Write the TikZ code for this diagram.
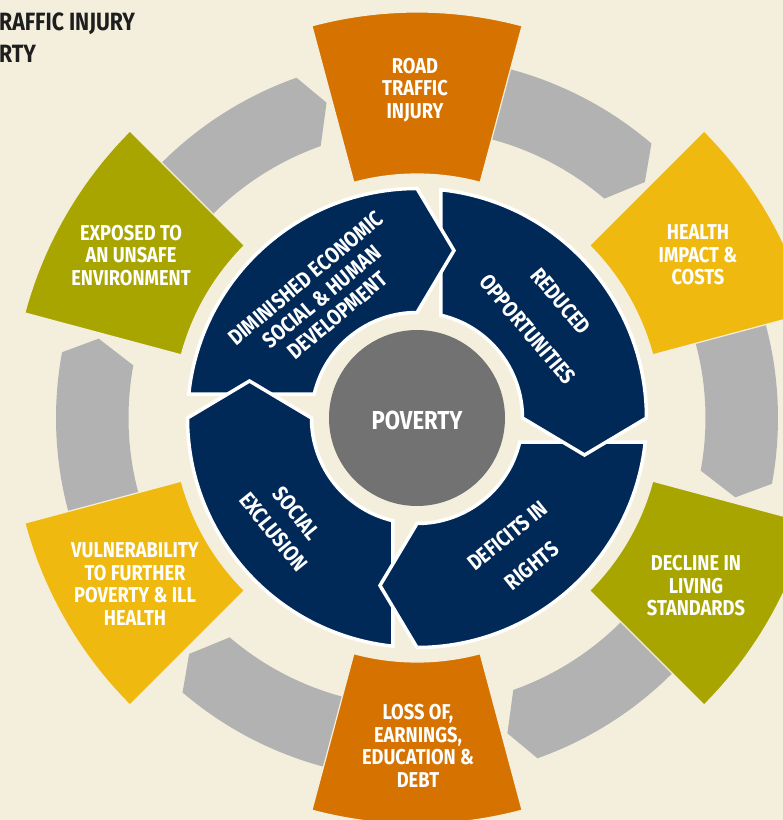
\documentclass[tikz,border=0pt]{standalone}
\usepackage{fontspec}
\setmainfont{Fira Sans}[FakeStretch=0.85]
\definecolor{cream}{RGB}{244,239,221}
\definecolor{navy}{RGB}{0,41,88}
\definecolor{ringgray}{RGB}{178,178,178}
\definecolor{povgray}{RGB}{114,114,114}
\definecolor{orangebox}{RGB}{214,114,0}
\definecolor{yellowbox}{RGB}{240,185,15}
\definecolor{olivebox}{RGB}{168,165,0}
\definecolor{titleink}{RGB}{30,30,30}
\newcommand\navyseg[1]{%
  \begin{scope}[rotate=#1]
    \path[seg] (173.997:229.5pt) arc[start angle=173.997,end angle=90,radius=229.5pt]
      -- (37,167.5) -- (90:105.5pt) arc[start angle=90,end angle=166.85,radius=105.5pt] -- cycle;
  \end{scope}}
\newcommand\grayband[1]{%
  \begin{scope}[rotate=#1]
    \path[ringband] (35:361pt) arc[start angle=35,end angle=4.5,radius=361pt]
      -- (1:328pt) -- (4.5:288.5pt) arc[start angle=4.5,end angle=35,radius=288.5pt] -- cycle;
  \end{scope}}
\newcommand\sectorbox[2]{%
  \begin{scope}[rotate=#1]
    \path[boxshape,fill=#2] (-15:244pt) arc[start angle=-15,end angle=15,radius=244pt]
      -- (15:406pt) arc[start angle=15,end angle=-15,radius=406pt] -- cycle;
  \end{scope}}
\begin{document}
\begin{tikzpicture}[x=1pt,y=1pt,
  seg/.style={fill=navy,draw=white,line width=3.5pt,line join=miter},
  ringband/.style={fill=ringgray},
  boxshape/.style={draw=cream,line width=1.2pt},
  boxtext/.style={text=white,font=\bfseries\fontsize{21.5}{22.5}\selectfont,align=center,inner sep=0pt},
  segtext/.style={text=white,font=\bfseries\fontsize{22}{24.5}\selectfont,align=center,inner sep=0pt},
  titletext/.style={text=titleink,font=\bfseries\fontsize{25}{32}\selectfont,inner sep=0pt,anchor=base west}]
\useasboundingbox (-417,-402) rectangle (366,418);
\fill[cream] (-417,-402) rectangle (366,418);
\clip (-417,-402) rectangle (366,418);
% gray ring arrows
\grayband{45}
\grayband{-15}
\grayband{-75}
\grayband{-135}
\grayband{165}
\grayband{105}
% outer boxes
\sectorbox{90}{orangebox}
\sectorbox{30}{yellowbox}
\sectorbox{-30}{olivebox}
\sectorbox{-90}{orangebox}
\sectorbox{-150}{yellowbox}
\sectorbox{150}{olivebox}
% navy ring segments
\navyseg{90}
\navyseg{-180}
\navyseg{-90}
\navyseg{0}
\begin{scope}
  \clip (-240,10) rectangle (-90,60);
  \navyseg{90}
\end{scope}
% centre
\fill[povgray] (0,0) circle[radius=88pt];
\node[text=white,font=\bfseries\fontsize{26}{30}\selectfont,inner sep=0pt] (poverty) at (0,-2) {POVERTY};
% segment texts
\node[segtext,rotate=40] (dimin) at (-95.4,121.1) {DIMINISHED ECONOMIC\\SOCIAL \& HUMAN\\DEVELOPMENT};
\node[segtext,rotate=-50] (reduced) at (127.2,102.7) {REDUCED\\[19pt]OPPORTUNITIES};
\node[segtext,rotate=39] (deficits) at (102.6,-132.8) {DEFICITS IN\\[14pt]RIGHTS};
\node[segtext,rotate=-51] (social) at (-132,-104.5) {SOCIAL\\[5pt]EXCLUSION};
% box texts
\node[boxtext] (road) at (-2,328) {ROAD\\TRAFFIC\\INJURY};
\node[boxtext] (health) at (281,163) {HEALTH\\IMPACT \&\\COSTS};
\node[boxtext] (decline) at (279,-168) {DECLINE IN\\LIVING\\STANDARDS};
\node[boxtext] (loss) at (1,-328) {LOSS OF,\\EARNINGS,\\EDUCATION \&\\DEBT};
\node[boxtext] (vuln) at (-282,-166) {VULNERABILITY\\TO FURTHER\\POVERTY \& ILL\\HEALTH};
\node[boxtext] (exposed) at (-286,162.5) {EXPOSED TO\\AN UNSAFE\\ENVIRONMENT};
% cropped title
\node[titletext] (title1) at (-418,387) {RAFFIC INJURY};
\node[titletext] (title2) at (-418,355) {RTY};
\end{tikzpicture}
\end{document}
